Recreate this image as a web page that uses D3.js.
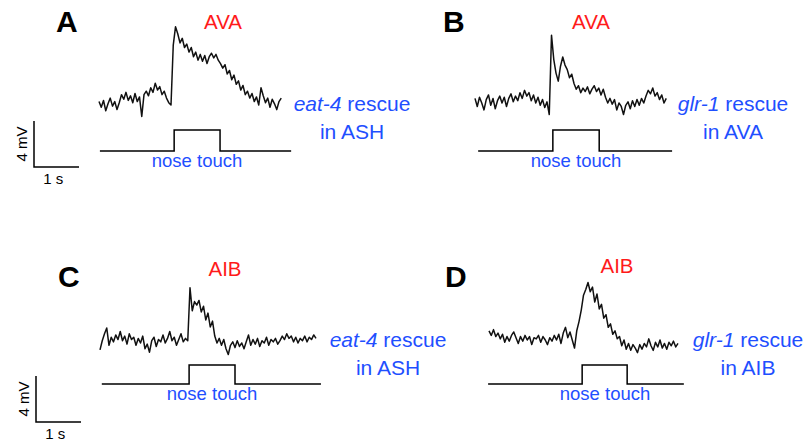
<!DOCTYPE html>
<html>
<head>
<meta charset="utf-8">
<script src="https://cdn.jsdelivr.net/npm/d3@7"></script>
<style>
  body { margin: 0; background: #fff; }
  svg { display: block; font-family: "Liberation Sans", Arial, sans-serif; }
</style>
</head>
<body>
<div id="chart"></div>
<script>
// membrane potential traces, mV relative to resting level, sampled every 0.05 s
const dt = 0.05;
const traceA = [0.3, -0.2, 0.4, -0.5, 0.1, 0.6, -0.1, 0.3, -0.4, 0.2, 0.9, 0.5, 1.1, 0.4, 0.8, 0.2, 1.0, 0.3, 0.7, -1.0, 0.9, 1.2, 0.8, 1.5, 1.1, 1.9, 1.3, 1.6, 0.9, 1.2, 0.6, 0.2,
  0.0, 5.2, 6.8, 6.2, 5.4, 5.8, 5.0, 5.3, 4.6, 5.0, 4.2, 4.6, 3.9, 4.4, 3.8, 4.3, 3.6, 4.2, 4.5, 4.1, 4.4, 3.9, 3.6, 3.2, 3.5, 2.7, 3.0, 2.2, 2.6,
  1.8, 2.1, 1.3, 1.7, 0.9, 1.2, 0.6, 1.0, 0.3, 0.7, 0.0, 1.5, 0.8, 0.2, 0.6, -0.2, 0.5, 0.1, -0.4, 0.3, 0.6];
const traceB = [0.4, -0.3, 0.5, 0.0, -0.6, 0.3, 0.7, -0.2, 0.4, -0.5, 0.2, 0.6, 0.0, 0.5, -0.3, 0.4, 0.8, 0.1, 0.6, 0.2, 0.9, 0.4, 1.1, 0.6, 0.9, 0.2, 0.7, 0.0, 0.5, -0.2, 0.3, -0.4, 0.1, -1.0,
  5.9, 3.8, 2.6, 1.9, 3.2, 4.0, 3.3, 2.9, 2.2, 2.5, 1.7, 1.2, 1.5, 0.9, 1.3, 1.0, 1.4, 0.8, 1.2, 1.5, 1.0, 1.3, 0.7, 1.2, 0.5, 0.0,
  0.4, -0.1, 0.3, -0.6, 0.0, -0.3, -1.0, -0.2, 0.1, -0.5, 0.2, -0.3, 0.3, -0.2, 0.4, 0.0, 0.6, 1.1, 0.8, 1.3, 0.6, 0.9, 0.3, 0.7, 0.0, 0.4];
const traceC = [-0.6, 0.2, 0.8, 1.3, -0.2, 0.5, 0.1, 0.7, 0.3, 1.0, 0.2, 0.6, -0.1, 0.8, 0.3, 0.5, -0.2, 0.4, 0.0, 0.6, -0.5, -0.1, -0.8, 0.2, 0.5, -0.3, 0.3, 0.1, 0.7, 0.0, 0.4, 1.0, 0.2, 0.5, -0.2, 0.3, 0.8, 0.1, 0.4,
  0.2, 4.8, 2.8, 3.6, 3.3, 3.7, 2.7, 3.2, 2.0, 2.6, 1.4, 1.9, 0.6, 0.0, 0.4, -0.2, 0.3, -0.5, -1.0, -0.2, 0.1, -0.4, 0.2, -0.3, 0.0, -0.5, 0.1, 0.7,
  -0.2, 0.3, -0.1, 0.4, -0.3, 0.2, 0.0, 0.5, -0.2, 0.3, 0.1, 0.4, -0.1, 0.2, 0.6, 0.3, 0.8, 0.4, 0.6, 0.1, 0.5, 0.0, 0.4, 0.2, 0.6, 0.1, 0.5, 0.3, 0.7, 0.4];
const traceD = [0.8, 0.4, 0.9, 0.3, 0.6, 0.1, 0.5, -0.2, 0.3, -0.1, 0.4, 0.7, 0.2, -0.3, 0.3, -0.1, 0.4, 0.0, 0.3, -0.4, 0.2, 0.1, 0.4, -0.2, 0.3, 0.0, -0.4, 0.2, -0.1, 0.4, 0.0, 0.5, -0.3, 0.6, 1.1, 0.2, 0.7, 0.0, -0.7,
  0.8, 1.6, 2.6, 3.9, 4.4, 5.0, 4.2, 4.6, 3.3, 4.0, 2.7, 3.1, 1.9, 2.2, 1.1, 1.4, 0.5, 0.8, 0.1, 0.3, -0.5, 0.0,
  -0.8, -0.3, -0.9, -0.4, -0.7, -1.1, -0.4, -0.8, -0.3, -0.6, 0.1, -0.5, -0.9, -0.2, -0.6, 0.0, -0.7, -0.3, -0.8, -0.2, -0.5, -0.1, -0.6, -0.3];

// nose touch timing in s from trace start: [line start, touch on, touch off, line end]
const stimA = [0.02, 1.67, 2.69, 4.27];
const stimB = [0.07, 1.73, 2.76, 4.38];
const stimC = [0.04, 1.98, 3.0, 4.91];
const stimD = [-0.02, 2.07, 3.07, 4.33];

const letters = ["A", "B", "C", "D"];
const cells = ["AVA", "AVA", "AIB", "AIB"];
const genes = ["eat-4", "glr-1", "eat-4", "glr-1"];
const rescueIn = ["in ASH", "in AVA", "in ASH", "in AIB"];

const pxPerSec = 45, pxPerMv = 11.5;
const red = "#ff1a1a", blue = "#1f4fff";

const panels = [
  { trace: traceA, stim: stimA, x0: 99, base: 105, sBase: 151, sTop: 130, lx: 56, ly: 32, tx: 223, ty: 29, gx: 352, gy: 111, nx: 197, ny: 167 },
  { trace: traceB, stim: stimB, x0: 475, base: 103, sBase: 151, sTop: 130, lx: 443, ly: 32, tx: 591, ty: 29, gx: 733, gy: 111, nx: 576, ny: 167 },
  { trace: traceC, stim: stimC, x0: 100, base: 343, sBase: 384, sTop: 365, lx: 58, ly: 287, tx: 225, ty: 276, gx: 388, gy: 347, nx: 212, ny: 400 },
  { trace: traceD, stim: stimD, x0: 489, base: 340, sBase: 384, sTop: 365, lx: 445, ly: 287, tx: 617, ty: 273, gx: 748, gy: 347, nx: 605, ny: 400 }
];

const svg = d3.select("#chart").append("svg").attr("width", 808).attr("height", 446);

panels.forEach((p, k) => {
  const x = d3.scaleLinear().domain([0, 1]).range([p.x0, p.x0 + pxPerSec]);
  const y = d3.scaleLinear().domain([0, 1]).range([p.base, p.base - pxPerMv]);
  const line = d3.line().x((d, i) => x(i * dt)).y(d => y(d));

  svg.append("path")
    .attr("d", line(p.trace))
    .attr("fill", "none")
    .attr("stroke", "#111")
    .attr("stroke-width", 1.5)
    .attr("stroke-linejoin", "round");

  // stimulus step
  const s = p.stim;
  const sy = d3.scaleLinear().domain([0, 1]).range([p.sBase, p.sTop]);
  const stepPts = [[s[0], 0], [s[1], 0], [s[1], 1], [s[2], 1], [s[2], 0], [s[3], 0]];
  svg.append("path")
    .attr("d", d3.line().x(d => x(d[0])).y(d => sy(d[1]))(stepPts))
    .attr("fill", "none")
    .attr("stroke", "#000")
    .attr("stroke-width", 1.5);

  svg.append("text").attr("x", p.lx).attr("y", p.ly)
    .attr("font-size", 30).attr("font-weight", "bold").text(letters[k]);
  svg.append("text").attr("x", p.tx).attr("y", p.ty).attr("text-anchor", "middle")
    .attr("font-size", 20.5).attr("fill", red).text(cells[k]);

  const g1 = svg.append("text").attr("x", p.gx).attr("y", p.gy).attr("text-anchor", "middle")
    .attr("font-size", 21).attr("fill", blue);
  g1.append("tspan").attr("font-style", "italic").text(genes[k]);
  g1.append("tspan").text(" rescue");
  svg.append("text").attr("x", p.gx).attr("y", p.gy + 28).attr("text-anchor", "middle")
    .attr("font-size", 21).attr("fill", blue).text(rescueIn[k]);

  svg.append("text").attr("x", p.nx).attr("y", p.ny).attr("text-anchor", "middle")
    .attr("font-size", 18.5).attr("fill", blue).text("nose touch");
});

// scale bars (4 mV, 1 s)
const bars = [{ x: 34, y: 167 }, { x: 36, y: 422 }];
bars.forEach(b => {
  const bx = d3.scaleLinear().domain([0, 1]).range([b.x, b.x + pxPerSec]);
  const by = d3.scaleLinear().domain([0, 4]).range([b.y, b.y - 4 * pxPerMv]);
  svg.append("path")
    .attr("d", d3.line()([[bx(0), by(4)], [bx(0), by(0)], [bx(1), by(0)]]))
    .attr("fill", "none").attr("stroke", "#000").attr("stroke-width", 1.5);
  svg.append("text")
    .attr("transform", `translate(${b.x - 7},${by(2)}) rotate(-90)`)
    .attr("text-anchor", "middle").attr("font-size", 15).text("4 mV");
  svg.append("text").attr("x", bx(0.43)).attr("y", b.y + 17)
    .attr("text-anchor", "middle").attr("font-size", 15).text("1 s");
});
</script>
</body>
</html>
